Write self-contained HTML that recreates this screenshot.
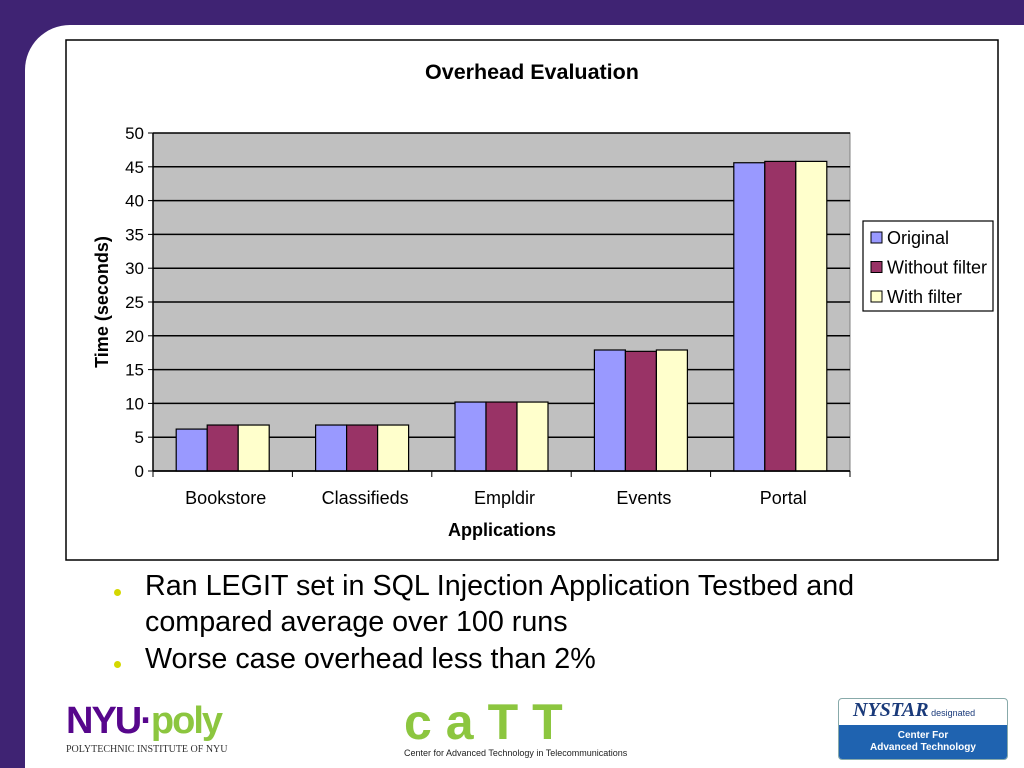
<!DOCTYPE html>
<html style="overflow:hidden;width:1024px;height:768px"><head><meta charset="utf-8"><style>
body{margin:0;width:1024px;height:768px;background:#3f2373;position:relative;overflow:hidden;font-family:"Liberation Sans",sans-serif}
#white{position:absolute;left:25px;top:25px;width:999px;height:743px;background:#fff;border-top-left-radius:45px}
.b{position:absolute;color:#000;font-size:28.7px;left:145px;white-space:nowrap}
.dot{position:absolute;left:114px;width:7px;height:7px;border-radius:50%;background:#d4d800}
</style></head><body>
<div id="white"></div>
<svg id="chart" style="position:absolute;left:0;top:0" width="1024" height="768"></svg>
<div class="dot" style="top:589px"></div>
<div class="b" style="top:568px;line-height:36px">Ran LEGIT set in SQL Injection Application Testbed and<br>compared average over 100 runs</div>
<div class="dot" style="top:661px"></div>
<div class="b" style="top:643px">Worse case overhead less than 2%</div>
<div style="position:absolute;left:66px;top:702px;font-weight:bold;font-size:38px;letter-spacing:-2px;line-height:38px"><span style="color:#57068c">NYU·</span><span style="color:#8cc63f">poly</span><div style="font-family:'Liberation Serif',serif;font-size:10px;font-weight:normal;letter-spacing:0;color:#333;margin-top:4px;line-height:12px">POLYTECHNIC INSTITUTE OF NYU</div></div>
<div style="position:absolute;left:404px;top:700px;width:260px;text-align:left"><div style="color:#8cc63f;font-size:50px;font-weight:bold;letter-spacing:14px;line-height:44px">caTT</div><div style="font-size:9px;color:#222;margin-top:4px">Center for Advanced Technology in Telecommunications</div></div>
<div style="position:absolute;left:838px;top:698px;width:168px;height:60px;border:1px solid #8aa;border-radius:4px;overflow:hidden"><div style="height:26px;font-family:'Liberation Serif',serif;font-style:italic;font-weight:bold;color:#1a3a7a;font-size:20px;padding-left:14px">NYSTAR<span style="font-size:9px;font-style:normal;font-weight:normal;font-family:'Liberation Sans'"> designated</span></div><div style="background:#1f63b0;color:#fff;font-size:10px;font-weight:bold;text-align:center;height:34px;line-height:12px;padding-top:5px;box-sizing:border-box">Center For<br>Advanced Technology</div></div>
<script>
const categories=["Bookstore","Classifieds","Empldir","Events","Portal"];
const seriesNames=["Original","Without filter","With filter"];
const original=[6.2,6.8,10.2,17.9,45.6];
const withoutFilter=[6.8,6.8,10.2,17.7,45.8];
const withFilter=[6.8,6.8,10.2,17.9,45.8];
const yTicks=[0,5,10,15,20,25,30,35,40,45,50];
const colors=["#9999ff","#993366","#ffffcc"];
const series=[original,withoutFilter,withFilter];
const NS="http://www.w3.org/2000/svg",svg=document.getElementById('chart');
function el(t,a,txt){const e=document.createElementNS(NS,t);for(const k in a)e.setAttribute(k,a[k]);if(txt!=null)e.textContent=txt;svg.appendChild(e);return e;}
const L=153,R=850,T=133,B=471,yMax=50;
const y=v=>B-(v/yMax)*(B-T);
const cw=(R-L)/categories.length;
const x=i=>L+cw*i;
let e=el('rect',{x:66,y:40,width:932,height:520,fill:'#fff',stroke:'#000','stroke-width':1.5});

e=el('text',{x:532,y:79,'text-anchor':'middle','font-size':21.5,'font-weight':'bold'},'Overhead Evaluation');

e=el('rect',{x:L,y:T,width:R-L,height:B-T,fill:'#c0c0c0',stroke:'#808080'});

yTicks.forEach(t=>{
 e=el('line',{x1:L,x2:R,y1:y(t),y2:y(t),stroke:'#000','stroke-width':1.5});
 
 el('line',{x1:L-5,x2:L,y1:y(t),y2:y(t),stroke:'#000'});
 e=el('text',{x:L-9,y:y(t)+6,'text-anchor':'end','font-size':17},t);
 
});
el('line',{x1:L,x2:L,y1:T,y2:B,stroke:'#000','stroke-width':1.5});
const bw=31;
categories.forEach((c,i)=>{
 const cx=x(i)+cw/2;
 series.forEach((s,j)=>{
  e=el('rect',{x:cx-1.5*bw+j*bw,y:y(s[i]),width:bw,height:B-y(s[i]),fill:colors[j],stroke:'#000','stroke-width':1.2});
  
 });
 el('line',{x1:x(i),x2:x(i),y1:B,y2:B+6,stroke:'#000'});
 e=el('text',{x:cx+3,y:504,'text-anchor':'middle','font-size':18},c);
 
});
el('line',{x1:R,x2:R,y1:B,y2:B+6,stroke:'#000'});
el('line',{x1:L,x2:R,y1:B,y2:B,stroke:'#000','stroke-width':1.5});
e=el('text',{x:502,y:536,'text-anchor':'middle','font-size':18,'font-weight':'bold'},'Applications');

e=el('text',{x:0,y:0,'text-anchor':'middle','font-size':18,'font-weight':'bold',transform:'translate(108,302) rotate(-90)'},'Time (seconds)');

e=el('rect',{x:863,y:221,width:130,height:90,fill:'#fff',stroke:'#000','stroke-width':1.2});

seriesNames.forEach((n,j)=>{
 const yy=238+j*29.5;
 el('rect',{x:871,y:yy-6,width:11,height:11,fill:colors[j],stroke:'#000'});
 e=el('text',{x:887,y:yy+6,'font-size':18},n);
 
});
</script>
</body></html>
